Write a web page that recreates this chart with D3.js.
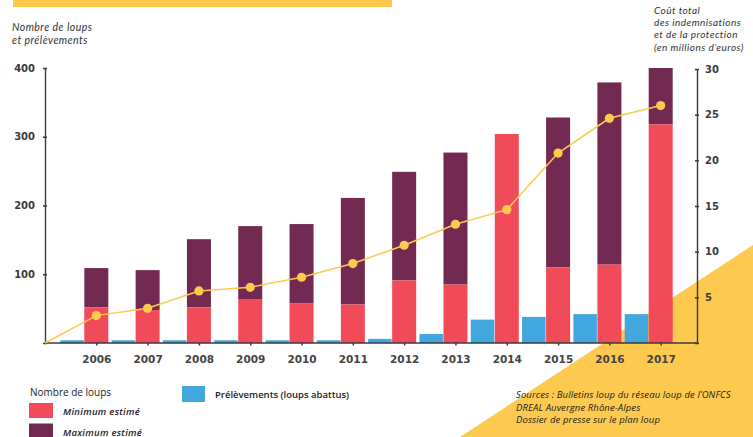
<!DOCTYPE html>
<html><head><meta charset="utf-8">
<script src="https://cdn.jsdelivr.net/npm/d3@7"></script>
<style>
body{margin:0;background:#fff;}
svg{display:block;}
</style></head>
<body>
<svg id="c" width="753" height="437"></svg>
<script>
const years = [2006,2007,2008,2009,2010,2011,2012,2013,2014,2015,2016,2017];
const minWolves = [52,48,52,64,58,56,91,85,304,110,114,318];
const maxWolves = [109,106,151,170,173,211,249,277,304,328,379,400];
const culls = [4,4,4,4,4,4,6,13,34,38,42,42];
const cost = [3.0,3.8,5.7,6.1,7.2,8.7,10.7,13.0,14.6,20.8,24.6,26.0];
const leftTicks = [0,100,200,300,400];
const rightTicks = [0,5,10,15,20,25,30];

const RED="#F14B5A", PURPLE="#722A52", BLUE="#42A6DF", YELLOW="#FEC94F", INK="#3a3a3a";
const svg = d3.select("#c");

const x = d3.scaleLinear().domain([2005,2017]).range([45,660.7]);
const yL = d3.scaleLinear().domain([0,400]).range([343,68]);
const yR = d3.scaleLinear().domain([0,30]).range([343,69]);
const bw = 24;

// decorations
svg.append("rect").attr("x",13).attr("y",0).attr("width",379).attr("height",7).attr("fill",YELLOW);
svg.append("polygon").attr("points","460,437 753,245 753,437").attr("fill",YELLOW);

// bars
const g = svg.append("g");
years.forEach((yr,i)=>{
  const cx = x(yr);
  g.append("rect").attr("x",cx-bw/2-bw).attr("y",yL(culls[i])).attr("width",bw-0.5)
    .attr("height",yL(0)-yL(culls[i])).attr("fill",BLUE);
  if(maxWolves[i]>minWolves[i]){
    g.append("rect").attr("x",cx-bw/2).attr("y",yL(maxWolves[i])).attr("width",bw)
      .attr("height",yL(minWolves[i])-yL(maxWolves[i])).attr("fill",PURPLE);
  }
  g.append("rect").attr("x",cx-bw/2).attr("y",yL(minWolves[i])).attr("width",bw)
    .attr("height",yL(0)-yL(minWolves[i])).attr("fill",RED);
});

// axes
const numFont = "DejaVu Sans";
const axL = svg.append("g").attr("transform","translate(45,0)")
  .call(d3.axisLeft(yL).tickValues(leftTicks).tickSize(0).tickPadding(10).tickFormat(d=>d===0?"":d));
const axR = svg.append("g").attr("transform","translate(697,0)")
  .call(d3.axisRight(yR).tickValues(rightTicks).tickSize(0).tickPadding(8).tickFormat(d=>d===0?"":d));
const axX = svg.append("g").attr("transform","translate(0,343)")
  .call(d3.axisBottom(x).tickValues(years).tickSize(0).tickPadding(13).tickFormat(d3.format("d")));
[axL,axR,axX].forEach(a=>{
  a.select(".domain").attr("stroke",INK).attr("stroke-width",1.4);
  a.selectAll("text").attr("font-family",numFont).attr("font-weight","bold").attr("fill",INK);
});
axL.selectAll("text").attr("font-size",10);
axR.selectAll("text").attr("font-size",10);
axX.selectAll("text").attr("font-size",10.5).attr("fill","#444");
axX.select(".domain").attr("d","M45,0H697");
axL.selectAll(".tick").append("line").attr("x1",-2).attr("x2",2).attr("stroke",INK).attr("stroke-width",1.5);
axR.selectAll(".tick").append("line").attr("x1",-2).attr("x2",2).attr("stroke",INK).attr("stroke-width",1.5);
axX.selectAll(".tick").append("line").attr("y1",0).attr("y2",2.5).attr("stroke",INK).attr("stroke-width",1.5);

// cost line
const pts = [[2005,0]].concat(years.map((yr,i)=>[yr,cost[i]]));
svg.append("path").datum(pts).attr("fill","none").attr("stroke",YELLOW).attr("stroke-width",1.5)
  .attr("d",d3.line().x(d=>x(d[0])).y(d=>yR(d[1])));
svg.selectAll(".dot").data(years).enter().append("circle")
  .attr("cx",d=>x(d)).attr("cy",(d,i)=>yR(cost[i])).attr("r",4.6).attr("fill",YELLOW);

// titles
function txt(xp,yp,s,opt){
  const t = svg.append("text").attr("x",xp).attr("y",yp).text(s)
    .attr("font-family",opt.font||"Open Sans").attr("font-size",opt.size||10).attr("fill",opt.fill||"#333")
    .attr("dominant-baseline","central");
  if(opt.italic) t.attr("font-style","italic");
  if(opt.weight) t.attr("font-weight",opt.weight);
  if(opt.ls) t.attr("letter-spacing",opt.ls);
  return t;
}
txt(12,27,"Nombre de loups",{italic:true,size:10.5,font:"Lato",ls:0.45});
txt(12,40,"et prélèvements",{italic:true,size:10.5,font:"Lato",ls:0.45});
["Coût total","des indemnisations","et de la protection","(en millions d’euros)"].forEach((s,i)=>{
  txt(654,9.5+i*12.4,s,{italic:true,size:10,font:"Lato",ls:0.45});
});

// legend
txt(30,392,"Nombre de loups",{size:10,fill:"#222"});
svg.append("rect").attr("x",29).attr("y",403).attr("width",24).attr("height",15).attr("fill",RED);
txt(63,411,"Minimum estimé",{italic:true,size:9.5,fill:"#222",weight:600,ls:0.3});
svg.append("rect").attr("x",29).attr("y",423.5).attr("width",24).attr("height",15).attr("fill",PURPLE);
txt(63,432,"Maximum estimé",{italic:true,size:9.5,fill:"#222",weight:600,ls:0.3});
svg.append("rect").attr("x",182).attr("y",386).attr("width",23).attr("height",16).attr("fill",BLUE);
txt(215,394,"Prélèvements (loups abattus)",{size:9.5,fill:"#222",weight:600});

// sources
txt(516,394,"Sources : Bulletins loup du réseau loup de l’ONFCS",{italic:true,size:9.5,fill:"#222",ls:0.1});
txt(516,407,"DREAL Auvergne Rhône-Alpes",{italic:true,size:9.5,fill:"#222",ls:0.1});
txt(516,419.5,"Dossier de presse sur le plan loup",{italic:true,size:9.5,fill:"#222",ls:0.1});
</script>
</body></html>
